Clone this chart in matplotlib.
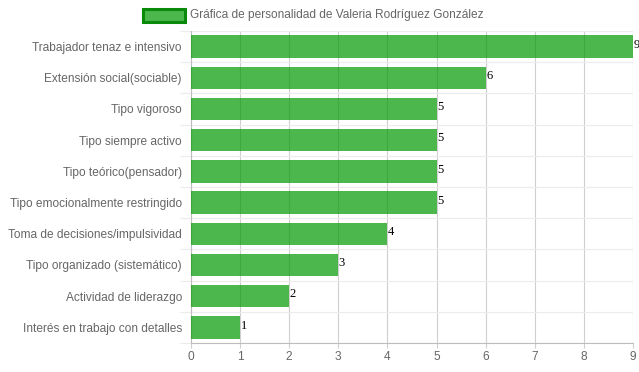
import matplotlib
matplotlib.use("Agg")
import matplotlib.pyplot as plt
from matplotlib.patches import Rectangle

categories = [
    "Trabajador tenaz e intensivo",
    "Extensión social(sociable)",
    "Tipo vigoroso",
    "Tipo siempre activo",
    "Tipo teórico(pensador)",
    "Tipo emocionalmente restringido",
    "Toma de decisiones/impulsividad",
    "Tipo organizado (sistemático)",
    "Actividad de liderazgo",
    "Interés en trabajo con detalles",
]
values = [9, 6, 5, 5, 5, 5, 4, 3, 2, 1]
series_label = "Gráfica de personalidad de Valeria Rodríguez González"
x_ticks = list(range(0, 10))

plt.rcParams['font.family'] = ['Liberation Sans', 'DejaVu Sans']

W, H = 639, 372
fig = plt.figure(figsize=(W / 100, H / 100), dpi=100)
ax = fig.add_axes([191 / W, 1 - 343 / H, (633 - 191) / W, (343 - 31) / H])

bar_color = (0, 0.6, 0, 0.7)
ypos = list(range(len(categories)))
ax.barh(ypos, values, height=0.72, color=bar_color, linewidth=0, zorder=3)

for y, v in zip(ypos, values):
    ax.text(v + 0.01, y - 0.06, str(v), family=['Liberation Serif', 'DejaVu Serif'],
            fontsize=9, color='black', ha='left', va='center', zorder=4)

ax.set_xlim(0, 9)
ax.set_ylim(len(categories) - 0.5, -0.5)
ax.set_xticks(x_ticks)
ax.set_xticklabels([str(t) for t in x_ticks])
ax.set_yticks(ypos)
ax.set_yticklabels(categories)
ax.set_yticks([i - 0.5 for i in range(len(categories) + 1)], minor=True)

vgrid = '#cfcfcf'
hgrid = '#ececec'
ax.tick_params(axis='y', which='major', length=0, pad=6.5, labelsize=8.6, labelcolor='#666666')
ax.tick_params(axis='y', which='minor', length=8, color=hgrid, width=0.8)
ax.tick_params(axis='x', which='major', length=3.6, color=vgrid, width=0.8,
               pad=2, labelsize=8.6, labelcolor='#666666')

ax.grid(axis='x', which='major', color=vgrid, linewidth=0.8, alpha=1, zorder=1)
ax.grid(axis='y', which='minor', color=hgrid, linewidth=0.8, alpha=1, zorder=1)
ax.set_axisbelow(True)

for s in ['top', 'right']:
    ax.spines[s].set_visible(False)
for s in ['left', 'bottom']:
    ax.spines[s].set_color('#bdbdbd')
    ax.spines[s].set_linewidth(0.8)

# legend
fig.patches.append(Rectangle((142.5 / W, 1 - 22 / H), 42 / W, 13 / H,
                             transform=fig.transFigure, facecolor=bar_color,
                             edgecolor='#0a8a0a', linewidth=2.2))
fig.text(190 / W, 1 - 15 / H, series_label, fontsize=8.6, color='#666666',
         ha='left', va='center')

fig.savefig("out.png", dpi=100)
